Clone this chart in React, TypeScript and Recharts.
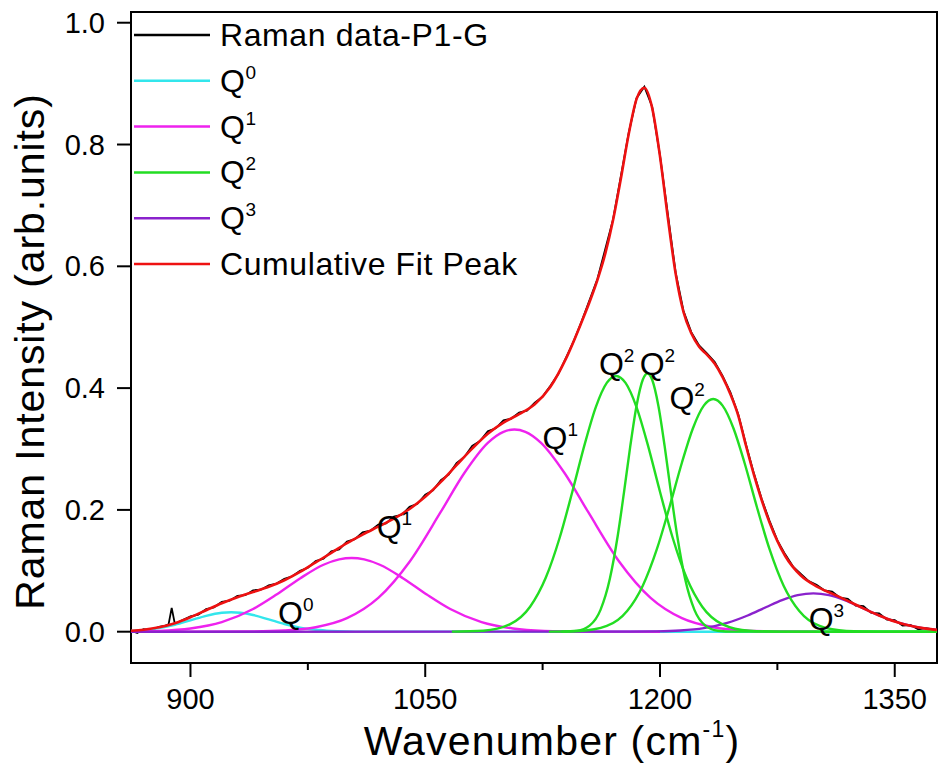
import React from "react";
import {
  LineChart,
  Line,
  XAxis,
  YAxis,
  Legend,
  Label,
  ReferenceArea,
  ReferenceDot,
} from "recharts";

const FONT = "'Liberation Sans', Arial, Helvetica, sans-serif";

// axes
const xDomain = [862, 1377];
const yDomain = [-0.0514, 1.0176];
const xTicks = [900, 975, 1050, 1125, 1200, 1275, 1350];
const xLabelled = [900, 1050, 1200, 1350];
const yTicks = [0, 0.2, 0.4, 0.6, 0.8, 1.0];

// Raman data-P1-G (measured spectrum)
const rawWavenumber = [
  862, 866, 870, 875, 880, 884, 886, 888, 890, 895, 900, 905, 910, 915, 920, 925, 930, 935, 940,
  945, 950, 955, 960, 965, 970, 975, 980, 985, 990, 995, 1000, 1005, 1010, 1015, 1020, 1025,
  1030, 1035, 1040, 1045, 1050, 1055, 1060, 1065, 1070, 1075, 1080, 1085, 1090, 1095, 1100,
  1105, 1110, 1115, 1120, 1125, 1130, 1135, 1140, 1145, 1150, 1160, 1170, 1180, 1185, 1190,
  1195, 1200, 1210, 1215, 1220, 1225, 1230, 1235, 1240, 1245, 1250, 1255, 1260, 1265, 1270,
  1275, 1280, 1285, 1290, 1295, 1300, 1305, 1310, 1315, 1320, 1325, 1330, 1335, 1340, 1345,
  1350, 1355, 1360, 1365, 1370, 1377,
];
const rawIntensity = [
  0.002, -0.002, 0.004, 0.003, 0.008, 0.01, 0.012, 0.039, 0.013, 0.019, 0.025, 0.028, 0.037,
  0.04, 0.049, 0.051, 0.059, 0.06, 0.068, 0.069, 0.076, 0.079, 0.087, 0.091, 0.1, 0.105, 0.116,
  0.12, 0.132, 0.135, 0.148, 0.152, 0.163, 0.166, 0.176, 0.178, 0.189, 0.192, 0.205, 0.21,
  0.225, 0.232, 0.249, 0.258, 0.277, 0.287, 0.305, 0.313, 0.329, 0.334, 0.347, 0.35, 0.36,
  0.363, 0.376, 0.386, 0.404, 0.423, 0.45, 0.478, 0.51, 0.579, 0.677, 0.819, 0.876, 0.895,
  0.862, 0.782, 0.59, 0.527, 0.492, 0.47, 0.457, 0.443, 0.42, 0.393, 0.357, 0.307, 0.26, 0.218,
  0.182, 0.15, 0.127, 0.107, 0.095, 0.083, 0.077, 0.068, 0.066, 0.056, 0.054, 0.043, 0.042,
  0.031, 0.03, 0.02, 0.019, 0.01, 0.011, 0.004, 0.006, 0.002,
];

// Cumulative Fit Peak
const fitWavenumber = [
  862, 870, 880, 890, 900, 910, 920, 930, 940, 950, 960, 970, 980, 990, 1000, 1010, 1020, 1030,
  1040, 1050, 1060, 1070, 1080, 1090, 1100, 1110, 1120, 1130, 1140, 1150, 1155, 1160, 1165,
  1170, 1175, 1180, 1185, 1190, 1195, 1200, 1205, 1210, 1215, 1220, 1225, 1230, 1235, 1240,
  1245, 1250, 1255, 1260, 1270, 1280, 1290, 1300, 1310, 1320, 1330, 1340, 1350, 1360, 1370,
  1377,
];
const fitIntensity = [
  0.0015, 0.0032, 0.0072, 0.014, 0.0238, 0.0353, 0.0467, 0.0566, 0.0651, 0.0737, 0.0845,
  0.0982, 0.1138, 0.1294, 0.1455, 0.1595, 0.1725, 0.1855, 0.2015, 0.2215, 0.246, 0.2735,
  0.3007, 0.3252, 0.3434, 0.3571, 0.3736, 0.4023, 0.4488, 0.509, 0.5414, 0.5774, 0.6203,
  0.6755, 0.7439, 0.8169, 0.8745, 0.8933, 0.8602, 0.7807, 0.68, 0.588, 0.525, 0.49, 0.468,
  0.455, 0.44, 0.418, 0.39, 0.355, 0.305, 0.258, 0.1793, 0.1243, 0.0922, 0.0746, 0.0625,
  0.0507, 0.0384, 0.0267, 0.0168, 0.0096, 0.005, 0.003,
];

// Q0 band
const q0Wavenumber = [862, 880, 890, 900, 910, 920, 926, 932, 940, 950, 960, 970, 980, 990, 1000, 1010, 1377];
const q0Intensity = [0.0012, 0.0059, 0.0113, 0.0186, 0.0261, 0.0311, 0.032, 0.0311, 0.0274, 0.0202, 0.0127, 0.0068, 0.0031, 0.0012, 0.0004, 0.0001, 0];

// Q1 bands
const q1aWavenumber = [862, 880, 900, 920, 940, 955, 970, 985, 995, 1003, 1011, 1021, 1036, 1051, 1066, 1086, 1106, 1126, 1150, 1200];
const q1aIntensity = [0.0003, 0.0013, 0.0052, 0.0156, 0.0372, 0.061, 0.0875, 0.1099, 0.1187, 0.121, 0.1187, 0.1099, 0.0875, 0.061, 0.0372, 0.0156, 0.0052, 0.0013, 0.0002, 0];
const q1bWavenumber = [862, 900, 940, 960, 980, 1000, 1020, 1040, 1060, 1075, 1090, 1100, 1107, 1114, 1124, 1139, 1154, 1174, 1194, 1214, 1234, 1254, 1274, 1300];
const q1bIntensity = [0, 0, 0.0005, 0.002, 0.0073, 0.0222, 0.0555, 0.1149, 0.197, 0.2606, 0.3101, 0.3282, 0.332, 0.3282, 0.3101, 0.2606, 0.197, 0.1149, 0.0555, 0.0222, 0.0073, 0.002, 0.0005, 0];

// Q2 bands
const q2aWavenumber = [1067, 1087, 1104, 1117, 1127, 1136, 1144, 1152, 1159, 1166, 1172, 1178, 1185, 1192, 1200, 1208, 1217, 1227, 1240, 1257, 1277, 1377];
const q2aIntensity = [0.0001, 0.0016, 0.012, 0.041, 0.0885, 0.1551, 0.2299, 0.3088, 0.3688, 0.4085, 0.42, 0.4085, 0.3688, 0.3088, 0.2299, 0.1551, 0.0885, 0.041, 0.012, 0.0016, 0.0001, 0];
const q2bWavenumber = [1137, 1147, 1155, 1162, 1168, 1173, 1177, 1181, 1185, 1189, 1192, 1195, 1199, 1203, 1207, 1211, 1216, 1222, 1229, 1237, 1247, 1377];
const q2bIntensity = [0.0001, 0.0016, 0.0099, 0.0359, 0.0873, 0.1575, 0.2287, 0.3042, 0.3707, 0.4137, 0.424, 0.4137, 0.3707, 0.3042, 0.2287, 0.1575, 0.0873, 0.0359, 0.0099, 0.0016, 0.0001, 0];
const q2cWavenumber = [1129, 1149, 1166, 1179, 1189, 1198, 1206, 1214, 1221, 1228, 1234, 1240, 1247, 1254, 1262, 1270, 1279, 1289, 1302, 1319, 1339, 1377];
const q2cIntensity = [0.0001, 0.0012, 0.0094, 0.034, 0.0756, 0.1355, 0.204, 0.2774, 0.3337, 0.3712, 0.382, 0.3712, 0.3337, 0.2774, 0.204, 0.1355, 0.0756, 0.034, 0.0094, 0.0012, 0.0001, 0];

// Q3 band
const q3Wavenumber = [862, 1178, 1198, 1213, 1228, 1243, 1256, 1268, 1278, 1288, 1298, 1308, 1318, 1328, 1340, 1353, 1368, 1377];
const q3Intensity = [0, 0.0001, 0.0005, 0.0019, 0.0058, 0.0144, 0.0266, 0.0406, 0.0518, 0.06, 0.063, 0.06, 0.0518, 0.0406, 0.0266, 0.0144, 0.0058, 0.003];

// peak annotations: [wavenumber, intensity, superscript]
const peakLabelX = [956, 1019, 1125, 1161, 1187, 1206, 1295];
const peakLabelY = [0.0126, 0.154, 0.3, 0.4216, 0.4216, 0.3657, 0.0028];
const peakLabelSup = ["0", "1", "1", "2", "2", "2", "3"];

// legend
const legendNames = ["Raman data-P1-G", "Q", "Q", "Q", "Q", "Cumulative Fit Peak"];
const legendSup = ["", "0", "1", "2", "3", ""];

const C = {
  raw: "#000000",
  q0: "#33e6ec",
  q1: "#ee22ee",
  q2: "#22dd22",
  q3: "#8a22cc",
  fit: "#ee1111",
};
const legendColors = [C.raw, C.q0, C.q1, C.q2, C.q3, C.fit];

const pts = (xs: number[], ys: number[]) => xs.map((x, i) => ({ x, y: ys[i] }));

const series = [
  { id: "raw", data: pts(rawWavenumber, rawIntensity), color: C.raw, w: 1.8, t: "linear" },
  { id: "q0", data: pts(q0Wavenumber, q0Intensity), color: C.q0, w: 2.4, t: "monotone" },
  { id: "q1a", data: pts(q1aWavenumber, q1aIntensity), color: C.q1, w: 2.4, t: "monotone" },
  { id: "q1b", data: pts(q1bWavenumber, q1bIntensity), color: C.q1, w: 2.4, t: "monotone" },
  { id: "q3", data: pts(q3Wavenumber, q3Intensity), color: C.q3, w: 2.4, t: "monotone" },
  { id: "q2a", data: pts(q2aWavenumber, q2aIntensity), color: C.q2, w: 2.4, t: "monotone" },
  { id: "q2b", data: pts(q2bWavenumber, q2bIntensity), color: C.q2, w: 2.4, t: "monotone" },
  { id: "q2c", data: pts(q2cWavenumber, q2cIntensity), color: C.q2, w: 2.4, t: "monotone" },
  { id: "fit", data: pts(fitWavenumber, fitIntensity), color: C.fit, w: 2.6, t: "monotone" },
];

const XTick = (props: any) => {
  const { x, y, payload } = props;
  const major = xLabelled.includes(payload.value);
  return (
    <g>
      <line x1={x} y1={y} x2={x} y2={y + (major ? 14 : 7)} stroke="#000" strokeWidth={2} />
      {major && (
        <text x={x} y={y + 46} textAnchor="middle" fontSize={29} fontFamily={FONT} fill="#000">
          {payload.value}
        </text>
      )}
    </g>
  );
};

const YTick = (props: any) => {
  const { x, y, payload } = props;
  return (
    <g>
      <line x1={x - 14} y1={y} x2={x} y2={y} stroke="#000" strokeWidth={2} />
      <text x={x - 26} y={y + 10} textAnchor="end" fontSize={29} fontFamily={FONT} fill="#000">
        {payload.value.toFixed(1)}
      </text>
    </g>
  );
};

const XTitle = (props: any) => {
  const { x, width } = props.viewBox;
  return (
    <text
      x={x + width / 2 + 18}
      y={755}
      textAnchor="middle"
      fontSize={41}
      letterSpacing={1.2}
      fontFamily={FONT}
      fill="#000"
    >
      Wavenumber (cm
      <tspan dy={-18} fontSize={23}>-1</tspan>
      <tspan dy={18}>)</tspan>
    </text>
  );
};

const YTitle = (props: any) => {
  const { y, height } = props.viewBox;
  const cy = y + height / 2 + 14;
  return (
    <text
      x={44}
      y={cy}
      transform={`rotate(-90 44 ${cy})`}
      textAnchor="middle"
      fontSize={41}
      letterSpacing={0.9}
      fontFamily={FONT}
      fill="#000"
    >
      Raman Intensity (arb.units)
    </text>
  );
};

const peakLabel = (sup: string) => (p: any) => (
  <text x={p.cx} y={p.cy} fontSize={32} fontFamily={FONT} fill="#000">
    Q<tspan dy={-13} fontSize={19}>{sup}</tspan>
  </text>
);

const LegendBox = () => (
  <svg width={560} height={290} style={{ display: "block" }}>
    {legendNames.map((name, i) => {
      const ry = 35 + i * 45.8;
      return (
        <g key={i}>
          <line x1={134} y1={ry} x2={210} y2={ry} stroke={legendColors[i]} strokeWidth={2.5} />
          <text x={220} y={ry + 11} fontSize={32} letterSpacing={0.6} fontFamily={FONT} fill="#000">
            {name}
            {legendSup[i] && (
              <tspan dy={-13} fontSize={19}>
                {legendSup[i]}
              </tspan>
            )}
          </text>
        </g>
      );
    })}
  </svg>
);

export default function App() {
  return (
    <div style={{ position: "absolute", left: 0, top: 0, background: "#fff" }}>
      <LineChart width={939} height={769} margin={{ top: 12, right: 2, bottom: 0, left: 0 }}>
        <XAxis
          dataKey="x"
          type="number"
          domain={xDomain}
          ticks={xTicks}
          allowDataOverflow
          height={106}
          axisLine={false}
          tickLine={false}
          tickSize={0}
          tickMargin={0}
          tick={<XTick />}
          interval={0}
        >
          <Label content={<XTitle />} />
        </XAxis>
        <YAxis
          type="number"
          domain={yDomain}
          ticks={yTicks}
          allowDataOverflow
          width={131}
          axisLine={false}
          tickLine={false}
          tickSize={0}
          tickMargin={0}
          tick={<YTick />}
          interval={0}
        >
          <Label content={<YTitle />} />
        </YAxis>
        {series.map((s) => (
          <Line
            key={s.id}
            data={s.data}
            dataKey="y"
            type={s.t as any}
            stroke={s.color}
            strokeWidth={s.w}
            dot={false}
            activeDot={false}
            isAnimationActive={false}
          />
        ))}
        {peakLabelX.map((px, i) => (
          <ReferenceDot
            key={i}
            x={px}
            y={peakLabelY[i]}
            r={0}
            ifOverflow="visible"
            shape={peakLabel(peakLabelSup[i])}
          />
        ))}
        <ReferenceArea
          x1={xDomain[0]}
          x2={xDomain[1]}
          y1={yDomain[0]}
          y2={yDomain[1]}
          fill="none"
          stroke="#000"
          strokeWidth={2}
          ifOverflow="visible"
        />
        <Legend
          layout="vertical"
          align="center"
          verticalAlign="middle"
          wrapperStyle={{ left: 0, top: 0, width: 560, height: 290 }}
          content={() => <LegendBox />}
        />
      </LineChart>
    </div>
  );
}
